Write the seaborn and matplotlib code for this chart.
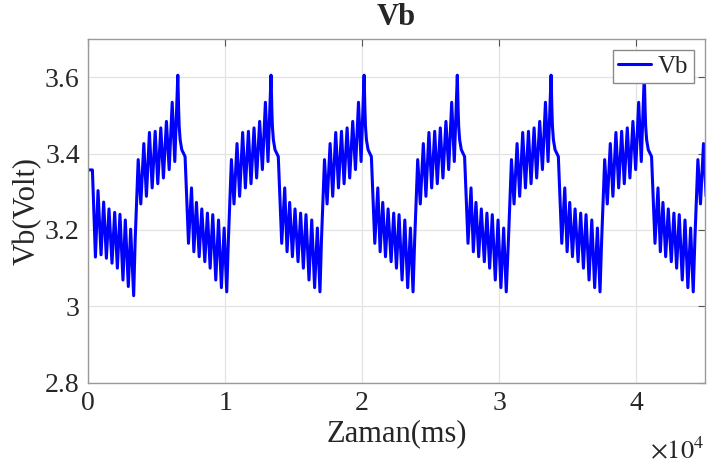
"""Vb battery voltage over time, redrawn in seaborn (MATLAB look)."""

import numpy as np
import pandas as pd
import matplotlib
matplotlib.use("Agg")
import matplotlib.pyplot as plt
import seaborn as sns

# first (partial) discharge: time in ms, voltage in V
FIRST_T = [0, 320, 540, 730, 950, 1140, 1340, 1530, 1750, 1945, 2140, 2330,
           2550, 2720, 2940, 3110, 3330]
FIRST_V = [3.357, 3.357, 3.129, 3.303, 3.135, 3.273, 3.126, 3.255, 3.113,
           3.246, 3.100, 3.241, 3.069, 3.226, 3.052, 3.202, 3.028]

# one charge/discharge cycle, time relative to its 3.6 V peak
CYCLE_DT = [-3110, -2890, -2700, -2480, -2290, -2070, -1870, -1650, -1460,
            -1240, -1050, -830, -630, -410, -220, 0, 60, 100, 170, 290, 530,
            780, 1000, 1170, 1360, 1560, 1750, 1970, 2160, 2360, 2550, 2770,
            2970, 3180, 3380, 3570]
CYCLE_V = [3.174, 3.384, 3.268, 3.426, 3.288, 3.455, 3.310, 3.458, 3.321,
           3.467, 3.336, 3.484, 3.358, 3.534, 3.379, 3.605, 3.515, 3.471,
           3.436, 3.410, 3.392, 3.165, 3.310, 3.143, 3.272, 3.130, 3.255,
           3.117, 3.244, 3.100, 3.240, 3.069, 3.226, 3.049, 3.205, 3.038]

# times of the peaks (ms), last one lies past the right edge
PEAK_T = [6550, 13350, 20140, 26940, 33780, 40580, 47380]

X_TICKS = [0, 10000, 20000, 30000, 40000]
X_TICK_LABELS = ["0", "1", "2", "3", "4"]
Y_TICKS = [2.8, 3.0, 3.2, 3.4, 3.6]
Y_TICK_LABELS = ["2.8", "3", "3.2", "3.4", "3.6"]


def build_frame():
    t = list(FIRST_T)
    v = list(FIRST_V)
    for p in PEAK_T:
        t += [p + d for d in CYCLE_DT]
        v += CYCLE_V
    return pd.DataFrame({"t": t, "Vb": v})


def main():
    sns.set_style("white")
    plt.rcParams["font.family"] = ["Liberation Serif", "DejaVu Serif"]
    plt.rcParams["mathtext.fontset"] = "stix"

    df = build_frame()

    fig = plt.figure(figsize=(7.07, 4.68), dpi=100)
    ax = fig.add_axes([0.1245, 0.182, 0.8725, 0.735])

    sns.lineplot(data=df, x="t", y="Vb", ax=ax, color="#0000ff", lw=2.2,
                 sort=False, estimator=None, label="Vb")

    ax.set_xlim(0, 45000)
    ax.set_ylim(2.8, 3.7)
    ax.set_xticks(X_TICKS, X_TICK_LABELS)
    ax.set_yticks(Y_TICKS, Y_TICK_LABELS)
    ax.grid(True, color="#e3e3e3", lw=0.9)
    ax.set_axisbelow(True)
    ax.tick_params(direction="in", length=5, width=0.8, color="#555555",
                   top=True, right=True, labelsize=20, labelcolor="#262626",
                   pad=6)
    for s in ax.spines.values():
        s.set_color("#9a9a9a")
        s.set_linewidth(1.0)

    ax.set_xlabel("Zaman(ms)", fontsize=22, color="#262626", labelpad=2)
    ax.set_ylabel("Vb(Volt)", fontsize=22, color="#262626", labelpad=2)
    ax.set_title("Vb", fontsize=22, fontweight="bold", pad=10)
    ax.text(1.0, -0.195, r"$\times10^{4}$", transform=ax.transAxes,
            ha="right", va="center", fontsize=19, color="#262626")

    leg = ax.legend(loc="upper right", fontsize=18, fancybox=False,
                    framealpha=1, edgecolor="#8a8a8a", handlelength=1.3,
                    borderpad=0.2, handletextpad=0.3, borderaxespad=0.45)
    leg.get_frame().set_linewidth(1.0)

    fig.savefig("out.png", dpi=100)
    plt.close(fig)


if __name__ == "__main__":
    main()
